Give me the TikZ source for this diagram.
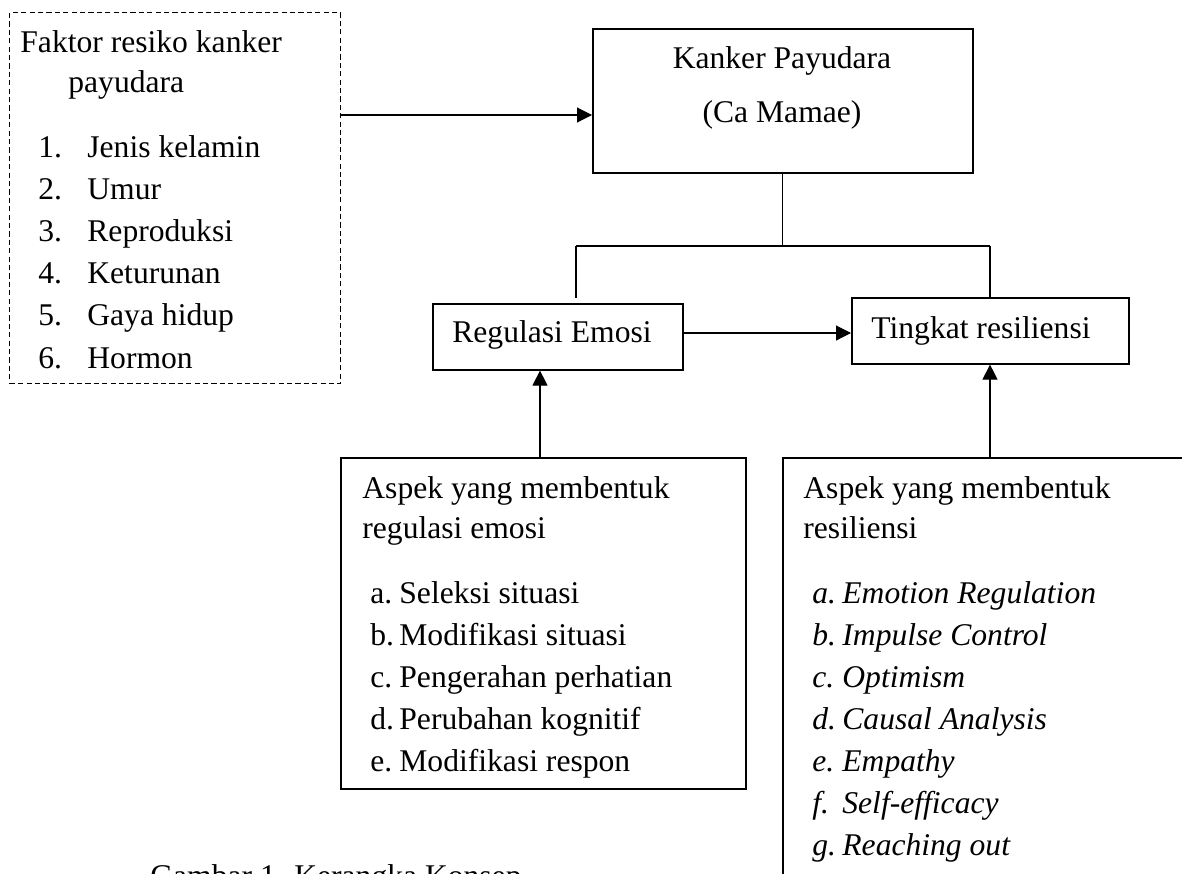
\documentclass[tikz,border=0pt]{standalone}
\usepackage{fontspec}
\setmainfont{Liberation Serif}
\usetikzlibrary{arrows.meta}
\begin{document}
\begin{tikzpicture}[x=0.5pt,y=-0.5pt,
  box/.style={draw, line width=0.8pt, inner sep=0pt, anchor=north west},
  conn/.style={line width=0.55pt},
  arr/.style={conn, -{Triangle[length=7.5pt,width=7.5pt]}},
  txt/.style={anchor=base west, inner sep=0pt, font=\fontsize{15.8}{21}\selectfont},
  ctxt/.style={txt, anchor=base}]
\useasboundingbox (0,0) rectangle (1182,873);
\clip (0,0) rectangle (1182,873);

% boxes
\node[box, line width=0.7pt, dash pattern=on 2.6pt off 1.6pt, minimum width=165.5pt, minimum height=185.5pt] (faktor) at (9,12) {};
\node[box, minimum width=190pt, minimum height=72pt] (kanker) at (592,28) {};
\node[box, minimum width=125pt, minimum height=33pt] (reg) at (432,303) {};
\node[box, minimum width=138.5pt, minimum height=33pt] (ting) at (851,297) {};
\node[box, minimum width=202.5pt, minimum height=165.5pt] (asp1) at (340,457) {};
\node[box, minimum width=224pt, minimum height=236.5pt] (asp2) at (782,457) {};

% texts: risk factors
\node[txt] (f0) at (20,52) {Faktor resiko kanker};
\node[txt] (f00) at (68,92) {payudara};
\foreach \t [count=\i] in {Jenis kelamin, Umur, Reproduksi, Keturunan, Gaya hidup, Hormon} {
  \node[txt] (fn\i) at (38,{157+42.2*(\i-1)}) {\i.};
  \node[txt] (ft\i) at (87,{157+42.2*(\i-1)}) {\t};
}

% kanker
\node[ctxt] (k1) at (782,68) {Kanker Payudara};
\node[ctxt] (k2) at (782,122) {(Ca Mamae)};

% regulasi / tingkat
\node[ctxt] (r1) at (552,342) {Regulasi Emosi};
\node[txt] (t1) at (871,338) {Tingkat resiliensi};

% aspek regulasi emosi
\node[txt] (a1) at (362,498) {Aspek yang membentuk};
\node[txt] (a2) at (362,538) {regulasi emosi};
\foreach \l/\t [count=\i] in {a/Seleksi situasi, b/Modifikasi situasi, c/Pengerahan perhatian, d/Perubahan kognitif, e/Modifikasi respon} {
  \node[txt] (al\i) at (370,{603+42.2*(\i-1)}) {\l.};
  \node[txt] (at\i) at (399,{603+42.2*(\i-1)}) {\t};
}

% aspek resiliensi
\node[txt] (b1) at (803,498) {Aspek yang membentuk};
\node[txt] (b2) at (803,538) {resiliensi};
\foreach \l/\t [count=\i] in {a/Emotion Regulation, b/Impulse Control, c/Optimism, d/Causal Analysis, e/Empathy, f/Self-efficacy, g/Reaching out} {
  \node[txt, font=\fontsize{15.8}{21}\selectfont\itshape] (bl\i) at (812,{603+42.0*(\i-1)}) {\l.};
  \node[txt, font=\fontsize{15.8}{21}\selectfont\itshape] (bt\i) at (842,{603+42.0*(\i-1)}) {\t};
}

% caption (cut by the page edge, as in the reference)
\node[txt] (cap) at (150,886) {Gambar 1. Kerangka Konsep};

% connectors
\coordinate (ya) at (0,115);
\draw[arr] (faktor.east |- ya) -- (kanker.west |- ya);
\coordinate (jl) at (576,246);
\coordinate (jr) at (990,246);
\draw[conn] (kanker.south) -- (kanker.south |- jl);
\draw[conn] (jl) -- (jr);
\draw[conn, shorten >=2.5pt] (jl) -- (jl |- reg.north);
\draw[conn] (jr) -- (jr |- ting.north);
\coordinate (ym) at (0,333);
\draw[arr] (reg.east |- ym) -- (ting.west |- ym);
\coordinate (x1) at (540,0);
\coordinate (x2) at (990,0);
\draw[arr] (asp1.north -| x1) -- (reg.south -| x1);
\draw[arr] (asp2.north -| x2) -- (ting.south -| x2);
\end{tikzpicture}
\end{document}
